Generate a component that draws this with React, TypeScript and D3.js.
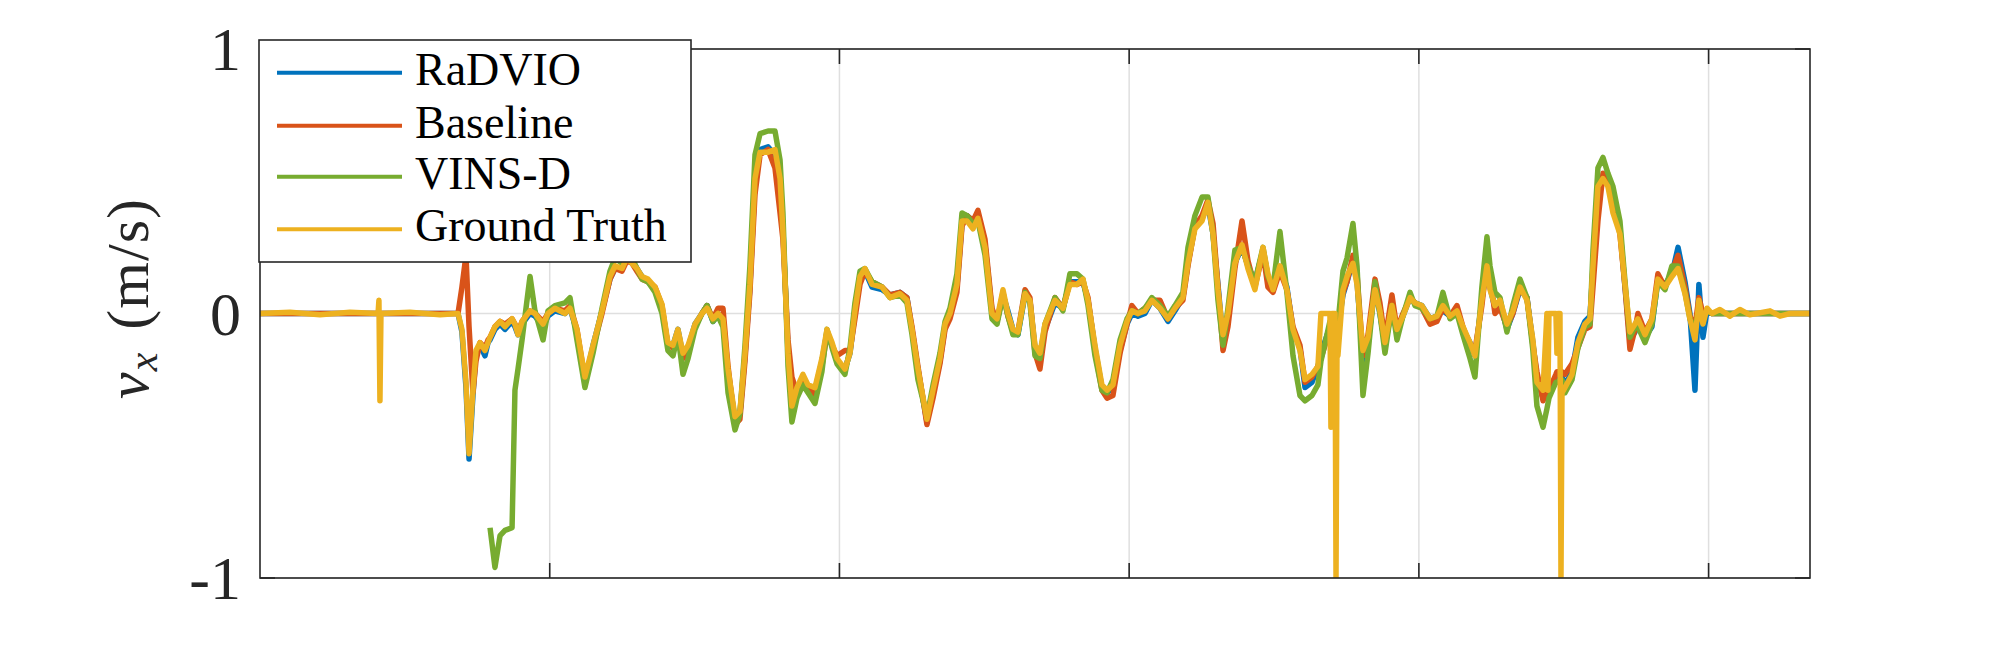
import React from "react";
import * as d3 from "d3";

// time (s) shared by all series
const TIME: number[] = [
  0, 2.07, 4.14, 6.21, 8.15, 8.21, 8.28, 8.35, 10.35, 12.43,
  13.67, 13.94, 14.22, 14.43, 14.70, 14.91, 15.19, 15.53, 15.74, 15.88,
  16.22, 16.57, 16.91, 17.40, 17.60, 17.81, 18.09, 18.50, 18.64, 18.98,
  19.54, 19.88, 20.36, 21.05, 21.40, 21.88, 22.43, 22.99, 23.61, 24.16,
  24.51, 24.99, 25.33, 25.68, 26.02, 26.37, 26.78, 27.27, 27.75, 28.16,
  28.51, 28.85, 29.20, 29.55, 30.03, 30.51, 30.86, 31.27, 31.62, 31.96,
  32.31, 32.79, 33.13, 33.48, 33.82, 34.17, 34.52, 35.07, 35.55, 35.90,
  36.10, 36.45, 36.72, 37.07, 37.48, 37.83, 38.31, 38.79, 39.14, 39.49,
  39.83, 40.38, 40.73, 41.07, 41.42, 41.76, 42.25, 42.94, 43.49, 44.18,
  44.66, 45.01, 45.42, 46.04, 46.46, 46.94, 47.29, 47.63, 48.11, 48.46,
  48.80, 49.22, 49.56, 50.05, 50.53, 50.88, 51.29, 51.63, 51.98, 52.32,
  52.81, 53.15, 53.50, 53.84, 54.19, 54.88, 55.43, 55.91, 56.40, 56.81,
  57.16, 57.64, 58.12, 58.47, 58.88, 59.37, 59.85, 60.19, 60.61, 61.09,
  61.57, 62.13, 62.68, 63.16, 63.71, 64.06, 64.54, 65.03, 65.44, 65.79,
  66.13, 66.48, 66.82, 67.30, 67.79, 68.20, 68.68, 69.24, 69.58, 69.93,
  70.41, 70.89, 71.31, 71.79, 72.14, 72.62, 73.03, 73.24, 73.86, 73.93,
  74.00, 74.21, 74.28, 74.35, 74.41, 74.76, 75.04, 75.45, 75.73, 76.14,
  76.49, 76.97, 77.31, 77.66, 78.14, 78.49, 78.90, 79.39, 79.73, 80.21,
  80.77, 81.25, 81.66, 82.15, 82.63, 83.04, 83.53, 83.87, 84.35, 84.70,
  84.91, 85.25, 85.60, 86.08, 86.49, 86.98, 87.46, 87.87, 88.15, 88.57,
  88.84, 88.91, 88.98, 89.46, 89.53, 89.60, 89.74, 89.81, 89.88, 90.08,
  90.57, 90.98, 91.46, 91.81, 92.02, 92.36, 92.71, 93.05, 93.40, 93.88,
  94.23, 94.57, 94.92, 95.12, 95.61, 96.09, 96.50, 96.99, 97.47, 97.89,
  98.37, 98.71, 99.06, 99.33, 99.61, 99.89, 100.23, 100.78, 101.47, 102.16,
  102.85, 104.24, 104.93, 105.62, 107.0,
];

const RADVIO: number[] = [
  0, 0, 0, 0, 0, 0, 0, 0, 0, 0,
  0, -0.07, -0.28, -0.55, -0.31, -0.15, -0.12, -0.16, -0.11, -0.10,
  -0.06, -0.04, -0.06, -0.03, -0.05, -0.08, -0.04, -0.01, 0, -0.01,
  -0.05, -0.01, 0.01, 0, 0.02, -0.07, -0.26, -0.12, 0.01, 0.13,
  0.17, 0.17, 0.21, 0.20, 0.17, 0.14, 0.12, 0.09, 0.02, -0.12,
  -0.12, -0.06, -0.16, -0.13, -0.04, 0, 0.03, -0.03, 0, -0.03,
  -0.22, -0.40, -0.38, -0.16, 0.10, 0.50, 0.62, 0.63, 0.60, 0.50,
  0.32, -0.14, -0.35, -0.29, -0.25, -0.28, -0.29, -0.18, -0.07, -0.12,
  -0.18, -0.21, -0.15, 0, 0.13, 0.16, 0.10, 0.09, 0.07, 0.08,
  0.06, -0.06, -0.21, -0.41, -0.30, -0.18, -0.05, -0.01, 0.10, 0.34,
  0.37, 0.35, 0.36, 0.26, 0.01, -0.03, 0.07, 0.01, -0.06, -0.08,
  0.07, 0.05, -0.13, -0.16, -0.06, 0.04, 0.02, 0.12, 0.12, 0.12,
  0.05, -0.13, -0.28, -0.30, -0.28, -0.14, -0.04, 0, -0.01, 0,
  0.05, 0.02, -0.03, 0.01, 0.06, 0.19, 0.33, 0.36, 0.41, 0.30,
  0.11, -0.10, -0.02, 0.19, 0.25, 0.18, 0.12, 0.24, 0.14, 0.10,
  0.17, 0.10, -0.06, -0.13, -0.28, -0.26, -0.20, -0.15, -0.05, -0.06,
  -0.08, -0.10, -0.10, -0.08, -0.06, 0.07, 0.12, 0.20, 0.12, -0.18,
  -0.11, 0.10, 0, -0.12, 0.02, -0.07, -0.01, 0.06, 0.04, 0.03,
  -0.02, -0.01, 0.01, -0.01, 0.01, -0.06, -0.11, -0.16, 0.05, 0.19,
  0.10, 0.02, 0.04, -0.06, 0, 0.09, 0.06, -0.11, -0.24, -0.32,
  -0.30, -0.30, -0.30, -0.25, -0.25, -0.25, -0.24, -0.24, -0.24, -0.27,
  -0.22, -0.09, -0.03, -0.01, 0.17, 0.47, 0.52, 0.49, 0.42, 0.32,
  0.10, -0.10, -0.07, -0.03, -0.09, -0.05, 0.13, 0.11, 0.15, 0.25,
  0.12, 0, -0.29, 0.11, -0.09, 0.01, 0, 0, 0, 0,
  0, 0, 0, 0, 0,
];

const BASELINE: number[] = [
  0, 0, 0, 0, 0, 0, 0, 0, 0, 0,
  0, 0.10, 0.22, -0.05, -0.30, -0.18, -0.11, -0.13, -0.10, -0.09,
  -0.05, -0.03, -0.04, -0.02, -0.04, -0.07, -0.03, 0, 0.01, 0,
  -0.03, 0, 0.02, 0.01, 0.03, -0.06, -0.25, -0.13, 0, 0.13,
  0.17, 0.16, 0.20, 0.19, 0.16, 0.13, 0.12, 0.10, 0.03, -0.12,
  -0.13, -0.07, -0.17, -0.14, -0.05, 0, 0.03, -0.02, 0.02, 0.02,
  -0.20, -0.42, -0.40, -0.18, 0.08, 0.45, 0.60, 0.62, 0.55, 0.38,
  0.28, -0.10, -0.24, -0.30, -0.26, -0.28, -0.31, -0.20, -0.08, -0.12,
  -0.16, -0.14, -0.14, -0.02, 0.11, 0.16, 0.12, 0.10, 0.07, 0.08,
  0.06, -0.05, -0.20, -0.42, -0.32, -0.19, -0.06, -0.02, 0.08, 0.33,
  0.37, 0.35, 0.39, 0.28, 0.02, -0.03, 0.08, -0.01, -0.07, -0.07,
  0.09, 0.06, -0.15, -0.21, -0.07, 0.06, 0.02, 0.12, 0.11, 0.12,
  0.06, -0.14, -0.29, -0.32, -0.31, -0.15, -0.04, 0.03, 0, 0.02,
  0.05, 0.05, -0.02, 0.02, 0.05, 0.18, 0.33, 0.37, 0.43, 0.34,
  0.10, -0.14, -0.05, 0.17, 0.35, 0.20, 0.10, 0.23, 0.10, 0.08,
  0.16, 0.09, -0.05, -0.12, -0.26, -0.24, -0.20, -0.17, -0.06, -0.08,
  -0.10, -0.12, -0.10, -0.08, -0.05, 0.08, 0.12, 0.22, 0.15, -0.16,
  -0.08, 0.13, 0.04, -0.10, 0.07, -0.06, 0, 0.06, 0.04, 0.02,
  -0.04, -0.03, 0.02, -0.01, 0.03, -0.05, -0.12, -0.14, 0.03, 0.20,
  0.14, 0, 0.02, -0.05, 0, 0.10, 0.06, -0.12, -0.22, -0.33,
  -0.30, -0.30, -0.29, -0.23, -0.22, -0.22, -0.22, -0.22, -0.22, -0.23,
  -0.19, -0.13, -0.06, -0.05, 0.10, 0.35, 0.53, 0.50, 0.45, 0.30,
  0.10, -0.135, -0.06, 0, -0.07, -0.02, 0.15, 0.10, 0.16, 0.22,
  0.10, -0.01, -0.05, 0.06, 0, 0.01, 0, 0, 0, 0,
  0, 0, 0, 0, 0,
];

const VINS_D: (number | null)[] = [
  null, null, null, null, null, null, null, null, null, null,
  null, null, null, null, null, null, null, null, null, -0.81,
  -0.96, -0.84, -0.82, -0.81, -0.29, -0.21, -0.10, 0.08, 0.14, 0.01,
  -0.10, 0.01, 0.03, 0.04, 0.06, -0.10, -0.28, -0.15, 0.02, 0.16,
  0.21, 0.19, 0.23, 0.21, 0.17, 0.13, 0.12, 0.08, 0, -0.14,
  -0.16, -0.08, -0.23, -0.17, -0.06, 0, 0.03, -0.03, -0.01, -0.05,
  -0.30, -0.44, -0.38, -0.12, 0.18, 0.60, 0.68, 0.69, 0.69, 0.58,
  0.38, -0.20, -0.41, -0.32, -0.27, -0.30, -0.34, -0.22, -0.06, -0.13,
  -0.19, -0.23, -0.13, 0.04, 0.16, 0.17, 0.12, 0.10, 0.06, 0.07,
  0.04, -0.08, -0.25, -0.39, -0.27, -0.15, -0.03, 0.02, 0.15, 0.38,
  0.37, 0.34, 0.35, 0.22, -0.02, -0.04, 0.07, -0.01, -0.08, -0.08,
  0.08, 0.04, -0.16, -0.17, -0.04, 0.06, 0.01, 0.15, 0.15, 0.13,
  0.03, -0.16, -0.29, -0.30, -0.25, -0.10, -0.02, 0.01, 0, 0.02,
  0.06, 0.03, -0.01, 0.03, 0.08, 0.25, 0.37, 0.44, 0.44, 0.30,
  0.05, -0.12, 0.02, 0.24, 0.25, 0.18, 0.12, 0.25, 0.14, 0.10,
  0.31, 0.08, -0.16, -0.31, -0.33, -0.31, -0.27, -0.18, -0.03, -0.05,
  -0.07, -0.10, -0.10, -0.08, -0.04, 0.16, 0.21, 0.34, 0.18, -0.31,
  -0.15, 0.12, 0, -0.15, 0.03, -0.10, -0.01, 0.08, 0.03, 0.02,
  -0.02, -0.01, 0.08, -0.02, 0, -0.08, -0.17, -0.24, 0.10, 0.29,
  0.18, 0.08, 0.06, -0.07, 0.03, 0.13, 0.06, -0.14, -0.35, -0.43,
  -0.36, -0.34, -0.32, -0.26, -0.26, -0.26, -0.25, -0.25, -0.25, -0.30,
  -0.25, -0.13, -0.05, -0.04, 0.24, 0.55, 0.59, 0.53, 0.48, 0.35,
  0.12, -0.09, -0.05, -0.05, -0.11, -0.04, 0.12, 0.09, 0.18, 0.18,
  0.08, -0.02, -0.06, 0.02, -0.02, 0.01, 0, 0, 0, 0,
  0, 0, 0, 0, 0,
];

const GROUND_TRUTH: number[] = [
  0, 0.005, -0.005, 0.005, 0, 0.05, -0.33, 0, 0.005, -0.005,
  0, -0.06, -0.26, -0.53, -0.29, -0.14, -0.11, -0.14, -0.11, -0.09,
  -0.05, -0.03, -0.05, -0.02, -0.04, -0.08, -0.03, 0, 0.01, 0,
  -0.04, 0, 0.02, 0, 0.02, -0.06, -0.24, -0.12, 0.01, 0.14,
  0.18, 0.17, 0.21, 0.19, 0.17, 0.14, 0.13, 0.10, 0.035, -0.11,
  -0.12, -0.06, -0.15, -0.12, -0.04, 0, 0.02, -0.02, 0, -0.02,
  -0.21, -0.39, -0.37, -0.15, 0.11, 0.51, 0.61, 0.61, 0.62, 0.51,
  0.31, -0.15, -0.35, -0.28, -0.23, -0.27, -0.28, -0.17, -0.06, -0.11,
  -0.17, -0.21, -0.15, 0.01, 0.14, 0.17, 0.11, 0.10, 0.06, 0.075,
  0.05, -0.06, -0.21, -0.40, -0.29, -0.17, -0.04, 0, 0.11, 0.35,
  0.35, 0.32, 0.36, 0.25, 0, -0.02, 0.09, 0, -0.06, -0.07,
  0.075, 0.05, -0.12, -0.15, -0.04, 0.05, 0.02, 0.11, 0.11, 0.13,
  0.05, -0.12, -0.27, -0.29, -0.27, -0.12, -0.03, 0.01, 0, 0.01,
  0.05, 0.02, -0.02, 0.02, 0.06, 0.19, 0.32, 0.35, 0.42, 0.30,
  0.09, -0.08, 0, 0.19, 0.26, 0.17, 0.09, 0.25, 0.15, 0.09,
  0.18, 0.09, -0.06, -0.14, -0.25, -0.23, -0.20, 0, 0, -0.43,
  0, 0, -1.0, -0.10, -0.16, 0.09, 0.14, 0.19, 0.11, -0.14,
  -0.09, 0.09, 0.01, -0.11, 0.03, -0.06, -0.01, 0.06, 0.04, 0.03,
  -0.02, -0.01, 0.03, -0.01, 0.01, -0.05, -0.11, -0.16, 0.05, 0.18,
  0.09, 0.03, 0.05, -0.04, 0.01, 0.10, 0.05, -0.10, -0.26, -0.29,
  0, -0.29, 0, 0, -0.15, 0, 0, -1.0, -0.30, -0.28,
  -0.23, -0.11, -0.04, -0.02, 0.18, 0.48, 0.51, 0.48, 0.38, 0.30,
  0.11, -0.07, -0.04, -0.02, -0.08, -0.02, 0.13, 0.10, 0.14, 0.17,
  0.075, -0.02, -0.10, 0.05, -0.04, 0.02, 0, 0.015, -0.01, 0.015,
  -0.005, 0.01, -0.01, 0, 0,
];

const SERIES_NAMES = ["RaDVIO", "Baseline", "VINS-D", "Ground Truth"];
const SERIES_COLORS = ["#0072BD", "#D95319", "#77AC30", "#EDB120"];
const X_DOMAIN = [0, 107];
const X_TICKS = [20, 40, 60, 80, 100];
const Y_TICKS = [-1, 0, 1];
const Y_TICK_LABELS = ["-1", "0", "1"];

const FONT = "'Liberation Serif', 'Times New Roman', serif";
const AXIS_COLOR = "#262626";

export default function App() {
  const W = 2000;
  const H = 650;
  const L = 260, R = 1810, T = 49, B = 578;
  const x = d3.scaleLinear().domain(X_DOMAIN).range([L, R]);
  const y = d3.scaleLinear().domain([-1, 1]).range([B, T]);
  const seriesData: (number | null)[][] = [RADVIO, BASELINE, VINS_D, GROUND_TRUTH];

  const line = d3
    .line<number | null>()
    .defined((v) => v !== null && v !== undefined)
    .x((_, i) => x(TIME[i]))
    .y((v) => y(v as number));

  const tickLen = 15;
  const legend = { x: 259, y: 40, w: 432, h: 222 };
  const rowY = [72.7, 125.7, 176.7, 229.3];

  return (
    <svg
      width={W}
      height={H}
      style={{ position: "absolute", left: 0, top: 0, background: "#fff" }}
      xmlns="http://www.w3.org/2000/svg"
    >
      <rect x={0} y={0} width={W} height={H} fill="#fff" />
      <defs>
        <clipPath id="plotclip">
          <rect x={L} y={T} width={R - L} height={B - T} />
        </clipPath>
      </defs>
      {/* grid */}
      <g stroke="#dfdfdf" strokeWidth={1.5}>
        {X_TICKS.map((t) => (
          <line key={"gx" + t} x1={x(t)} x2={x(t)} y1={T} y2={B} />
        ))}
        {Y_TICKS.map((t) => (
          <line key={"gy" + t} x1={L} x2={R} y1={y(t)} y2={y(t)} />
        ))}
      </g>
      {/* ticks */}
      <g stroke={AXIS_COLOR} strokeWidth={1.6}>
        {X_TICKS.map((t) => (
          <g key={"tx" + t}>
            <line x1={x(t)} x2={x(t)} y1={B} y2={B - tickLen} />
            <line x1={x(t)} x2={x(t)} y1={T} y2={T + tickLen} />
          </g>
        ))}
        {Y_TICKS.map((t) => (
          <g key={"ty" + t}>
            <line x1={L} x2={L + tickLen} y1={y(t)} y2={y(t)} />
            <line x1={R} x2={R - tickLen} y1={y(t)} y2={y(t)} />
          </g>
        ))}
      </g>
      {/* data */}
      <g clipPath="url(#plotclip)" fill="none">
        {seriesData.map((s, k) => (
          <path
            key={SERIES_NAMES[k]}
            d={line(s) || ""}
            stroke={SERIES_COLORS[k]}
            strokeWidth={5.5}
            strokeLinejoin="round"
            strokeLinecap="butt"
          />
        ))}
      </g>
      {/* axes box */}
      <rect x={L} y={T} width={R - L} height={B - T} fill="none" stroke={AXIS_COLOR} strokeWidth={1.6} />
      {/* y tick labels */}
      <g fontFamily={FONT} fontSize={62} fill={AXIS_COLOR} textAnchor="end">
        {Y_TICKS.map((t, i) => (
          <text key={"yl" + t} x={241} y={y(t) + 21}>
            {Y_TICK_LABELS[i]}
          </text>
        ))}
      </g>
      {/* y label */}
      <g transform={`translate(148, ${(T + B) / 2 - 15}) rotate(-90)`}>
        <text fontFamily={FONT} fontSize={60} fill={AXIS_COLOR} textAnchor="middle" letterSpacing={1}>
          <tspan fontStyle="italic">v</tspan>
          <tspan fontStyle="italic" fontSize={42} dy={9}>x</tspan>
          <tspan dy={-9} dx={22}>(m/s)</tspan>
        </text>
      </g>
      {/* legend */}
      <g>
        <rect x={legend.x} y={legend.y} width={legend.w} height={legend.h} fill="#fff" stroke={AXIS_COLOR} strokeWidth={1.6} />
        {SERIES_NAMES.map((n, i) => (
          <g key={"lg" + n}>
            <line x1={277} x2={402} y1={rowY[i]} y2={rowY[i]} stroke={SERIES_COLORS[i]} strokeWidth={4} />
            <text x={415} y={rowY[i] + 12} fontFamily={FONT} fontSize={46} fill="#000">
              {n}
            </text>
          </g>
        ))}
      </g>
    </svg>
  );
}
